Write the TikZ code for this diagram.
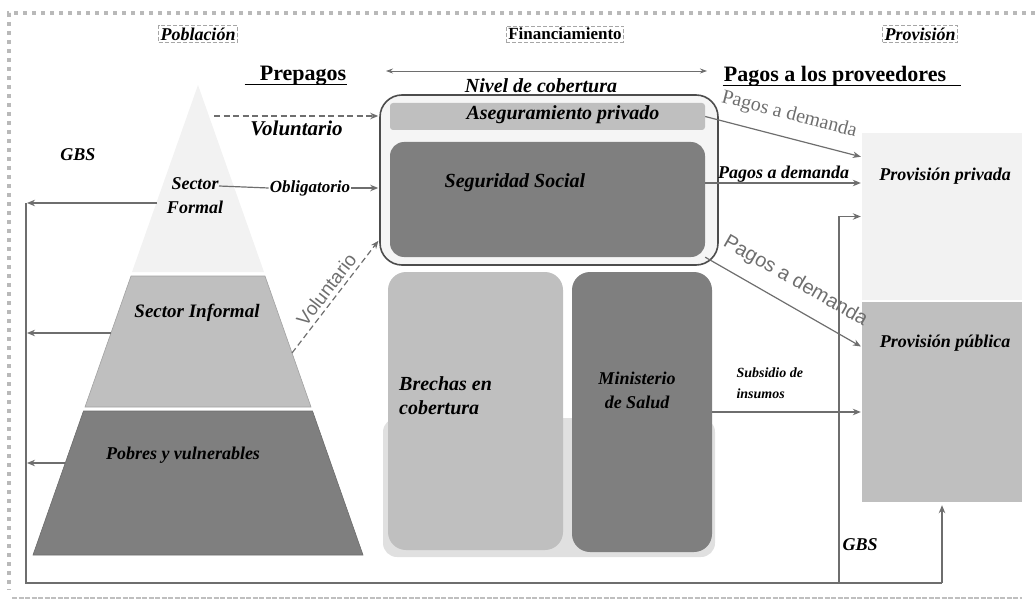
\documentclass[tikz,border=0pt]{standalone}
\usepackage{fontspec}
\setmainfont{Liberation Serif}
\setsansfont{Liberation Sans}
\usetikzlibrary{arrows.meta,positioning,calc}
\tikzset{
  flowarrow/.style={-{Stealth[length=8pt,width=6.5pt]}, line width=1.2pt,
    draw=FlowGray, shorten >=1pt},
  flowdash/.style={flowarrow, dash pattern=on 6pt off 3.5pt},
  flowline/.style={line width=1.2pt, draw=FlowGray},
  graylabel/.style={text=FlowGray, inner sep=1pt}
}
\definecolor{FlowGray}{HTML}{6E6E6E}
\definecolor{PyrLight}{HTML}{F2F2F2}
\definecolor{PyrMid}{HTML}{BFBFBF}
\definecolor{PyrDark}{HTML}{7F7F7F}

\begin{document}
\begin{tikzpicture}[x=1pt, y=-1pt,
  lblit/.style={font=\fontsize{18}{24}\selectfont\bfseries\itshape, inner sep=1pt},
  lblbig/.style={font=\fontsize{20}{24}\selectfont\bfseries\itshape, inner sep=1pt},
  headbox/.style={draw=gray!70, dash pattern=on 4pt off 2pt, line width=0.8pt, inner sep=2pt},
  fundbox/.style={rounded corners=16pt, inner sep=0pt},
  provbox/.style={inner sep=0pt, minimum width=160pt}
]
\useasboundingbox (0,0) rectangle (1035,604);

% marco
\draw[gray!55, line width=4pt, dash pattern=on 4pt off 5pt] (1035,13) -- (9,13) -- (9,590);
\draw[gray!50, line width=2.5pt, dash pattern=on 5pt off 1.5pt] (12,598) -- (1022,598);

% encabezados
\node[lblit, headbox] (pobl) at (198,34) {Población};
\node[headbox, font=\fontsize{17}{20}\selectfont\bfseries] (finan) at (565,34) {Financiamiento};
\node[lblit, headbox] (provh) at (920,34) {Provisión};

\node[font=\fontsize{22}{26}\selectfont\bfseries, inner sep=1pt] (prep) at (303,76) {Prepagos};
\node[font=\fontsize{22}{26}\selectfont\bfseries, inner sep=1pt] (pagprov) at (835,76) {Pagos a los proveedores};
\draw[line width=1pt] ([xshift=-14pt,yshift=-4pt]prep.base west) -- ([yshift=-4pt]prep.base east);
\draw[line width=1pt] ([yshift=-4pt]pagprov.base west) -- ([xshift=14pt,yshift=-4pt]pagprov.base east);

\coordinate (cobL) at (386,71);
\coordinate (cobR) at (707,71);
\draw[{Stealth[length=7pt,width=5pt]}-{Stealth[length=7pt,width=5pt]}, line width=0.8pt, FlowGray] (cobL) -- (cobR);
\node[lblbig] (nivel) at (541,86) {Nivel de cobertura};

% piramide
\fill[PyrLight] (198,85) -- (264,272) -- (132,272) -- cycle;
\filldraw[fill=PyrMid, draw=PyrMid!85!black, line width=0.6pt] (131,276) -- (265,276) -- (311,407) -- (85,407) -- cycle;
\filldraw[fill=PyrDark, draw=PyrDark!85!black, line width=0.6pt] (83.5,411) -- (312.5,411) -- (363,555) -- (33,555) -- cycle;

\node[lblit, align=center] (secform) at (195,196) {Sector\\Formal};
\node[lblit, font=\fontsize{19}{24}\selectfont\bfseries\itshape] (secinf) at (197,313) {Sector Informal};
\node[lblit] (pobres) at (183,455) {Pobres y vulnerables};

% financiamiento
\node[draw=black!70, line width=1.6pt, fill=black!4, rounded corners=22pt,
  minimum width=338pt, minimum height=170pt] (cont) at (549,180) {};
\node[fill=PyrMid, rounded corners=3pt, minimum width=315pt, minimum height=27pt] (aseg) at (547.5,116.5) {};
\node[lblbig] (asegtxt) at (563,115) {Aseguramiento privado};
\node[fundbox, fill=PyrDark, rounded corners=14pt, minimum width=315pt, minimum height=115pt] (segsoc) at (547.5,199.5) {};
\node[lblbig] (segtxt) at (515,183) {Seguridad Social};

\node[fundbox, fill=black!12, rounded corners=14pt, minimum width=332pt, minimum height=139pt] (bajo) at (549,487.5) {};
\node[fundbox, fill=PyrMid, rounded corners=18pt, minimum width=175pt, minimum height=278pt] (brechas) at (475.5,411) {};
\node[lblbig, align=left, anchor=west] (brechastxt) at (398,396) {Brechas en\\cobertura};
\node[fundbox, fill=PyrDark, rounded corners=18pt, minimum width=140pt, minimum height=280pt] (minis) at (642,412) {};
\node[lblit, align=center] (ministxt) at (637,390) {Ministerio\\de Salud};

% provision
\node[provbox, fill=PyrLight, minimum height=167pt] (privada) at (942,216.5) {};
\node[lblit] (privtxt) at (945,176) {Provisión privada};
\node[provbox, fill=PyrMid, minimum height=200pt] (publica) at (942,402) {};
\node[lblit] (pubtxt) at (945,343) {Provisión pública};

% prepagos
\coordinate (volA) at (214,116);
\draw[flowdash] (volA) -- node[lblit, font=\fontsize{21}{24}\selectfont\bfseries\itshape, below=3pt] (volunt) {Voluntario} (cont.west |- volA);
\coordinate (sectorend) at (219,186);
\node[lblit, font=\fontsize{17}{20}\selectfont\bfseries\itshape] (oblig) at (310,188) {Obligatorio};
\draw[flowline] (sectorend) -- (oblig.west);
\draw[flowarrow] (oblig.east) -- (cont.west |- oblig.east);
\coordinate (volB) at (292,353);
\coordinate (volBend) at (379,240);
\draw[flowdash] (volB) -- node[graylabel, sloped, above=3pt, font=\fontsize{19}{22}\selectfont\sffamily] (voluntB) {Voluntario} (volBend);

% pagos a los proveedores
\draw[flowarrow] (aseg.east) -- node[graylabel, sloped, above=12pt, font=\fontsize{20}{24}\selectfont] (pagtop) {Pagos a demanda} ([yshift=59.5pt]privada.west);
\coordinate (ssout) at ([yshift=16.5pt]segsoc.east);
\draw[flowarrow] (ssout) -- node[lblit, above, inner sep=0pt] (pagmid) {Pagos a demanda} (ssout -| privada.west);
\draw[flowarrow] (segsoc.south east) -- node[graylabel, sloped, above=13pt, font=\fontsize{20}{24}\selectfont\sffamily] (pagbot) {Pagos a demanda} ([yshift=55pt]publica.west);
\draw[flowarrow] (minis.east) -- (minis.east -| publica.west);
\node[font=\fontsize{14}{21}\selectfont\bfseries\itshape, align=left, anchor=west] (subtxt) at (733,383) {Subsidio de\\insumos};

% GBS
\coordinate (gbsTop) at (26,203);
\coordinate (gbsBL) at (26,583);
\coordinate (gbsMid) at (839,583);
\coordinate (gbsBR) at (942,583);
\coordinate (formalL) at (157,203);
\coordinate (informalL) at (111,333);
\coordinate (pobresL) at (65,463);
\draw[flowline] (gbsTop) -- (gbsBL) -- (gbsBR);
\draw[flowarrow, shorten >=3pt] (gbsBR) -- (publica.south);
\draw[flowarrow] (gbsMid) |- (privada.west);
\draw[flowarrow] (formalL) -- (gbsTop);
\draw[flowarrow] (informalL) -- (informalL -| gbsTop);
\draw[flowarrow] (pobresL) -- (pobresL -| gbsTop);
\node[lblit] (gbsleft) at (78,155) {GBS};
\node[lblit] (gbsright) at (860,545) {GBS};
\end{tikzpicture}
\end{document}
